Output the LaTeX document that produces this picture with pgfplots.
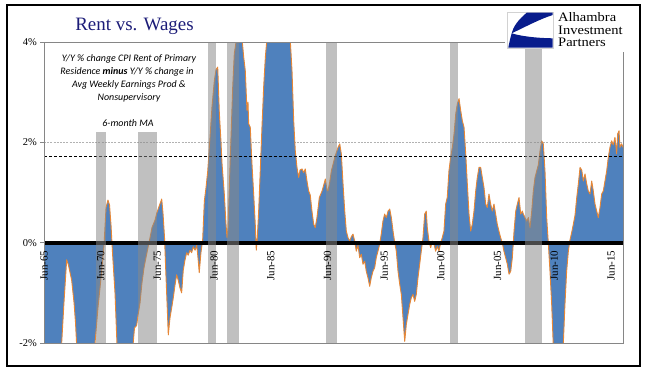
\documentclass[border=0pt]{standalone}
\usepackage{pgfplots}
\pgfplotsset{compat=1.18}
\usepackage{pgfplotstable}
\usepackage{fontspec}
\setmainfont{Liberation Serif}
\newfontfamily\carlito{Carlito}
\definecolor{areablue}{RGB}{79,129,189}
\definecolor{lineorange}{RGB}{230,135,55}
\definecolor{recgray}{RGB}{137,137,137}
\definecolor{titlenavy}{RGB}{28,28,120}
\definecolor{logonavy}{RGB}{8,28,140}
\definecolor{axgray}{RGB}{134,134,134}
\pgfplotstableread{
year val
1965.50 -2.6
1966.21 -2.8
1966.73 -2.6
1967.06 -2.0
1967.26 -1.2
1967.50 -0.34
1967.66 -0.45
1967.94 -0.75
1968.15 -1.2
1968.28 -1.6
1968.38 -2.05
1968.85 -2.7
1969.56 -2.6
1970.00 -2.0
1970.26 -1.3
1970.53 -0.7
1970.79 -0.05
1970.97 0.7
1971.14 0.85
1971.28 0.75
1971.41 0.35
1971.54 -0.2
1971.76 -1.0
1971.94 -2.05
1972.38 -2.8
1972.91 -2.6
1973.35 -2.05
1973.48 -1.7
1973.67 -1.65
1973.79 -1.45
1973.97 -1.2
1974.14 -0.8
1974.32 -0.5
1974.49 -0.3
1974.67 -0.1
1974.85 0.1
1975.02 0.3
1975.29 0.45
1975.46 0.6
1975.69 0.75
1975.88 0.87
1975.99 0.6
1976.13 0.1
1976.21 -0.4
1976.35 -1.2
1976.46 -1.84
1976.61 -1.5
1976.76 -1.3
1976.90 -1.1
1977.05 -0.85
1977.20 -0.64
1977.34 -0.75
1977.49 -0.9
1977.64 -1.0
1977.78 -0.55
1977.93 -0.35
1978.08 -0.2
1978.22 -0.25
1978.37 -0.15
1978.52 -0.2
1978.67 -0.08
1978.82 -0.15
1978.97 -0.05
1979.08 -0.3
1979.19 -0.6
1979.34 -0.2
1979.49 0.05
1979.64 0.83
1979.79 1.1
1979.94 1.43
1980.14 2.1
1980.31 2.7
1980.52 3.23
1980.67 3.45
1980.82 3.5
1980.96 2.6
1981.11 2.0
1981.20 1.57
1981.40 0.97
1981.55 0.37
1981.64 0.1
1981.73 0.3
1981.84 1.1
1981.99 2.1
1982.14 3.1
1982.28 3.77
1982.37 3.9
1982.61 4.3
1982.87 4.3
1983.11 3.7
1983.25 3.43
1983.40 2.63
1983.49 2.8
1983.55 2.37
1983.69 2.3
1983.84 1.57
1983.99 0.97
1984.13 0.37
1984.22 -0.15
1984.31 0.1
1984.43 0.63
1984.57 1.43
1984.72 2.3
1984.87 3.1
1985.02 3.7
1985.25 4.3
1985.61 5.0
1986.31 5.5
1986.84 5.0
1987.22 4.03
1987.37 3.43
1987.52 2.43
1987.66 1.83
1987.81 1.5
1987.96 1.3
1988.08 1.45
1988.25 1.47
1988.40 1.4
1988.54 1.47
1988.69 1.23
1988.84 1.03
1988.98 0.95
1989.13 0.63
1989.28 0.37
1989.42 0.3
1989.57 0.5
1989.78 0.9
1990.02 1.03
1990.17 1.15
1990.31 1.27
1990.46 1.05
1990.54 1.03
1990.69 1.2
1990.84 1.43
1991.14 1.7
1991.43 1.9
1991.58 1.97
1991.72 1.77
1991.87 1.17
1992.02 0.63
1992.16 0.23
1992.31 0.1
1992.46 0.03
1992.60 0.12
1992.75 0.17
1992.90 0.03
1993.04 -0.17
1993.19 -0.05
1993.34 -0.3
1993.48 -0.23
1993.63 -0.43
1993.78 -0.37
1993.92 -0.57
1994.07 -0.7
1994.22 -0.87
1994.36 -0.7
1994.51 -0.57
1994.66 -0.5
1994.80 -0.3
1994.95 -0.17
1995.10 -0.03
1995.24 0.17
1995.39 0.43
1995.54 0.57
1995.69 0.5
1995.84 0.63
1995.99 0.67
1996.13 0.5
1996.28 0.23
1996.43 0.0
1996.57 -0.17
1996.72 -0.57
1996.87 -0.83
1997.01 -1.03
1997.16 -1.5
1997.31 -1.97
1997.45 -1.63
1997.60 -1.43
1997.75 -1.23
1997.89 -1.1
1998.04 -1.03
1998.19 -1.17
1998.33 -1.03
1998.48 -0.7
1998.63 -0.43
1998.77 -0.17
1998.92 0.1
1999.07 0.57
1999.21 0.63
1999.30 0.3
1999.45 0.03
1999.60 -0.1
1999.74 0.03
1999.89 -0.03
2000.04 -0.17
2000.18 -0.07
2000.33 -0.17
2000.48 0.0
2000.62 0.1
2000.77 0.23
2000.92 0.77
2001.06 0.9
2001.21 1.43
2001.36 1.7
2001.51 1.9
2001.66 2.17
2001.81 2.57
2001.95 2.77
2002.10 2.87
2002.25 2.63
2002.39 2.43
2002.54 2.3
2002.69 1.77
2002.83 1.17
2002.98 0.57
2003.13 0.23
2003.27 0.37
2003.42 0.63
2003.57 1.03
2003.71 1.3
2003.86 1.5
2004.01 1.5
2004.15 1.3
2004.30 1.1
2004.45 0.77
2004.59 0.7
2004.74 0.97
2004.89 0.77
2005.03 0.63
2005.18 0.77
2005.33 0.57
2005.47 0.37
2005.62 0.23
2005.77 0.1
2005.91 0.0
2006.06 -0.17
2006.21 -0.3
2006.36 -0.43
2006.51 -0.63
2006.66 -0.57
2006.80 -0.3
2006.95 0.23
2007.10 0.63
2007.24 0.77
2007.39 0.9
2007.54 0.57
2007.68 0.63
2007.77 0.57
2007.92 0.5
2008.07 0.43
2008.21 0.5
2008.36 0.3
2008.51 0.63
2008.65 1.03
2008.80 1.3
2008.95 1.43
2009.09 1.55
2009.24 1.83
2009.39 2.03
2009.53 1.97
2009.68 1.43
2009.83 0.5
2009.97 0.0
2010.12 -0.57
2010.27 -1.23
2010.41 -2.05
2010.65 -2.5
2011.00 -2.6
2011.29 -2.05
2011.44 -1.23
2011.59 -0.57
2011.74 -0.17
2011.88 0.05
2012.03 0.2
2012.18 0.37
2012.33 0.55
2012.48 0.9
2012.62 1.17
2012.77 1.5
2012.92 1.45
2013.06 1.23
2013.21 1.37
2013.36 1.17
2013.50 1.03
2013.65 0.97
2013.80 1.23
2013.94 1.03
2014.09 0.77
2014.24 0.63
2014.38 0.5
2014.53 0.7
2014.68 0.97
2014.82 1.03
2014.97 1.23
2015.12 1.43
2015.26 1.7
2015.41 1.9
2015.56 2.03
2015.70 1.95
2015.85 2.1
2016.00 1.77
2016.09 2.17
2016.21 2.23
2016.29 1.9
2016.44 1.97
2016.56 1.9
}\rentwage
\begin{document}
\begin{tikzpicture}[x=1bp,y=1bp]
\useasboundingbox (0,0) rectangle (655,375);
\fill[white] (0,0) rectangle (655,375);
\begin{axis}[
  at={(44bp,32bp)}, anchor=south west,
  scale only axis, width=579bp, height=301bp,
  xmin=1965.5, xmax=2016.56, ymin=-2, ymax=4,
  axis on top,
  axis x line*=middle, axis y line*=left,
  hide obscured x ticks=false,
  x axis line style={draw=none},
  y axis line style={axgray, line width=0.8bp},
  xtick={1965.5,1970.5,1975.5,1980.5,1985.5,1990.5,1995.5,2000.5,2005.5,2010.5,2015.5},
  xticklabels={Jun-65,Jun-70,Jun-75,Jun-80,Jun-85,Jun-90,Jun-95,Jun-00,Jun-05,Jun-10,Jun-15},
  xtick style={draw=none},
  xticklabel style={rotate=90, anchor=east, inner sep=0pt, font=\fontsize{11}{12}\selectfont},
  xticklabel shift=4bp,
  ytick={-2,0,2,4},
  yticklabels={-2\%,0\%,2\%,4\%},
  ytick style={axgray, line width=0.8bp},
  tick align=outside,
  major tick length=4bp,
  yticklabel style={inner sep=0pt, font=\fontsize{10.5}{12}\selectfont},
  yticklabel shift=3bp,
]
\addplot[draw=gray!60, line width=0.6bp, dash pattern=on 2bp off 1.2bp] coordinates {(1965.5,2) (2016.56,2)};
\addplot[fill=areablue, draw=none] table[x=year,y=val] {\rentwage} \closedcycle;
\addplot[draw=lineorange, line width=0.9bp, line join=round] table[x=year,y=val] {\rentwage};
\addplot[black, line width=4bp] coordinates {(1965.5,0) (2016.56,0)};
\addplot[black, line width=0.9bp, dash pattern=on 3bp off 2bp] coordinates {(1965.5,1.72) (2016.56,1.72)};
\addplot[fill=recgray, fill opacity=0.53, draw=none] coordinates {(1970.09,-2) (1970.09,4) (1970.97,4) (1970.97,-2)} -- cycle;
\addplot[fill=recgray, fill opacity=0.53, draw=none] coordinates {(1973.79,-2) (1973.79,4) (1975.46,4) (1975.46,-2)} -- cycle;
\addplot[fill=recgray, fill opacity=0.53, draw=none] coordinates {(1979.96,-2) (1979.96,4) (1980.67,4) (1980.67,-2)} -- cycle;
\addplot[fill=recgray, fill opacity=0.53, draw=none] coordinates {(1981.64,-2) (1981.64,4) (1982.70,4) (1982.70,-2)} -- cycle;
\addplot[fill=recgray, fill opacity=0.53, draw=none] coordinates {(1990.37,-2) (1990.37,4) (1991.34,4) (1991.34,-2)} -- cycle;
\addplot[fill=recgray, fill opacity=0.53, draw=none] coordinates {(2001.30,-2) (2001.30,4) (2002.00,4) (2002.00,-2)} -- cycle;
\addplot[fill=recgray, fill opacity=0.53, draw=none] coordinates {(2007.92,-2) (2007.92,4) (2009.42,4) (2009.42,-2)} -- cycle;
\fill[white] (axis cs:1965.6,2.2) rectangle (axis cs:1979.85,3.98);
\end{axis}
% plot borders
\draw[axgray, line width=0.8bp] (44,333) -- (505,333);
\draw[axgray, line width=0.8bp] (623,323) -- (623,32) -- (44,32);
% outer frame
\draw[black, line width=1.2bp] (7,9) rectangle (640,370);
% title
\node[anchor=base, text=titlenavy, inner sep=0pt, font=\fontsize{19}{22}\selectfont] at (134.5,345) {Rent vs. Wages};
% annotation
\begin{scope}[every node/.style={anchor=base, inner sep=0pt, font=\carlito\itshape\fontsize{10}{12}\selectfont}]
\node at (129,314) {Y/Y \% change CPI Rent of Primary};
\node at (127,301) {Residence \textbf{minus} Y/Y \% change in};
\node at (129,288) {Avg Weekly Earnings Prod \&};
\node at (129,275) {Nonsupervisory};
\node at (128,249) {6-month MA};
\end{scope}
% logo
\filldraw[fill=white, draw=gray!35, line width=0.6bp] (507,327) rectangle (553,363);
\fill[logonavy] (552.7,362.3) -- (526.7,362.3) .. controls (518,355) and (513,348) .. (511.7,341.7)
  .. controls (510,336) and (509,331) .. (508.3,327.3) -- (552.7,327.3) -- (552.7,336.7)
  .. controls (535,337) and (520,339) .. (511.7,341.7)
  .. controls (525,348) and (540,356) .. (552.7,360) -- cycle;
\begin{scope}[every node/.style={anchor=base west, inner sep=0pt, xscale=1.12, font=\fontsize{13}{13}\selectfont}]
\node at (558,353.5) {Alhambra};
\node at (558,341) {Investment};
\node at (558,328.5) {Partners};
\end{scope}
\end{tikzpicture}
\end{document}
